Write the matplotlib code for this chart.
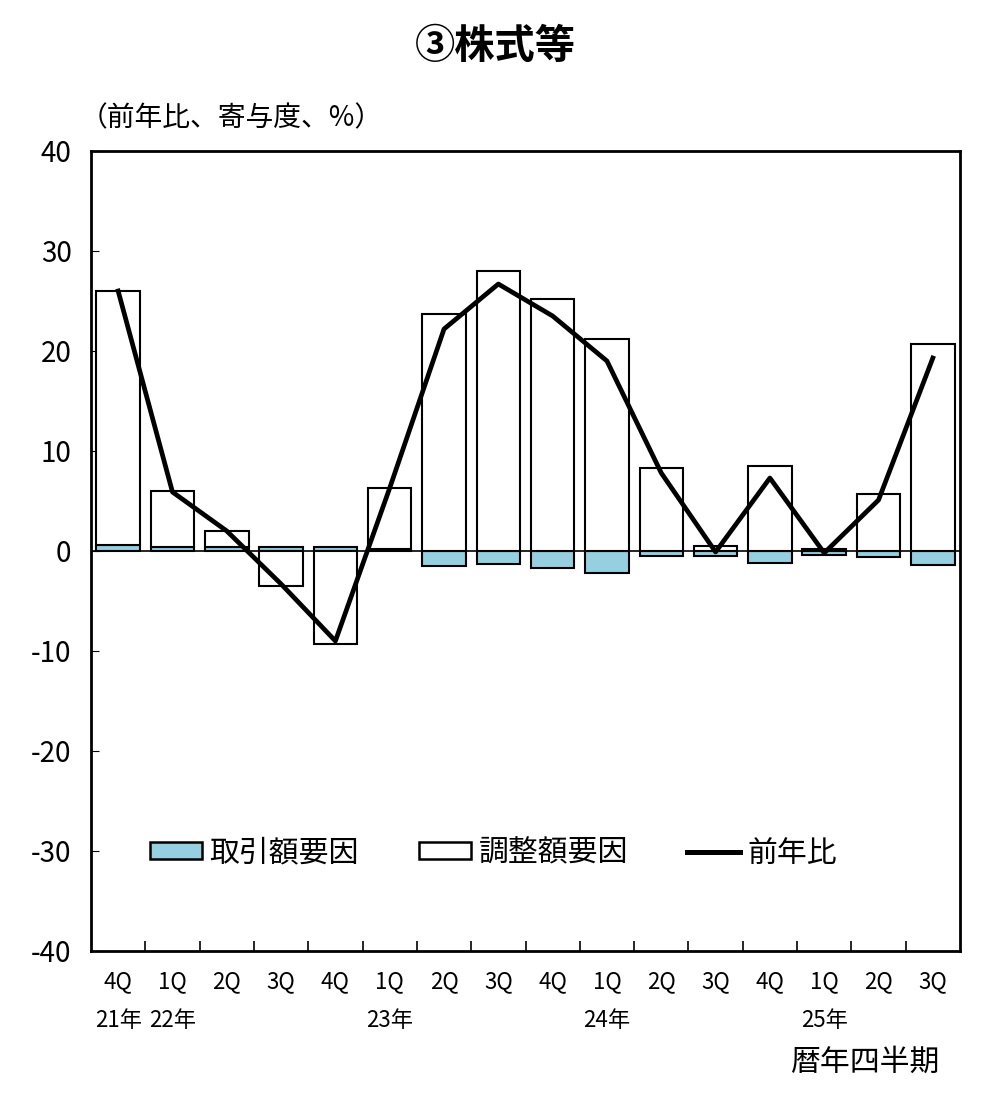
import numpy as np
import matplotlib.pyplot as plt
from matplotlib.patches import Patch
from matplotlib.lines import Line2D

plt.rcParams['font.family'] = ['Noto Sans CJK JP', 'DejaVu Sans']
plt.rcParams['axes.unicode_minus'] = False

# 四半期ラベル
quarters = ['4Q', '1Q', '2Q', '3Q', '4Q', '1Q', '2Q', '3Q', '4Q', '1Q', '2Q', '3Q', '4Q', '1Q', '2Q', '3Q']
years = {0: '21年', 1: '22年', 5: '23年', 9: '24年', 13: '25年'}

# 取引額要因・調整額要因・前年比（%）
torihiki = [0.6, 0.4, 0.4, 0.4, 0.4, 0.2, -1.5, -1.3, -1.7, -2.2, -0.5, -0.5, -1.2, -0.4, -0.6, -1.4]
chosei = [25.4, 5.6, 1.6, -3.5, -9.3, 6.1, 23.7, 28.0, 25.2, 21.2, 8.3, 0.5, 8.5, 0.2, 5.7, 20.7]
zennen = [26.0, 5.9, 2.0, -3.3, -9.0, 6.3, 22.2, 26.7, 23.5, 19.0, 7.8, -0.1, 7.3, -0.2, 5.1, 19.3]

blue = '#96CFE0'
x = np.arange(len(quarters))
torihiki = np.array(torihiki)
chosei = np.array(chosei)
# 同符号なら積み上げ、異符号なら0から
bottom2 = np.where(np.sign(torihiki) == np.sign(chosei), torihiki, 0)

fig = plt.figure(figsize=(9.81, 11.07), dpi=100)
ax = fig.add_axes([91/981, 1 - 951/1107, 869/981, 800/1107])

ax.bar(x, torihiki, width=0.8, color=blue, edgecolor='black', linewidth=1.5, zorder=2)
ax.bar(x, chosei, width=0.8, bottom=bottom2, color='white', edgecolor='black', linewidth=1.5, zorder=2)
ax.axhline(0, color='black', linewidth=1.2, zorder=3)
ax.plot(x, zennen, color='black', linewidth=3.4, zorder=4)

ax.set_xlim(-0.5, len(quarters) - 0.5)
ax.set_ylim(-40, 40)
ax.set_yticks(np.arange(-40, 41, 10))
ax.tick_params(axis='y', direction='in', length=6, labelsize=20, pad=14)
ax.set_xticks(x)
ax.set_xticklabels(quarters, fontsize=16)
ax.tick_params(axis='x', which='major', length=0, pad=14)
ax.set_xticks(np.arange(0.5, len(quarters) - 1, 1), minor=True)
ax.tick_params(axis='x', which='minor', direction='in', length=7, width=1.2)
for s in ax.spines.values():
    s.set_linewidth(2)

for i, y in years.items():
    ax.text(i, -0.0865, y, transform=ax.get_xaxis_transform(), ha='center', va='center', fontsize=16)

fig.text(940/981, 1 - 1062/1107, '暦年四半期', ha='right', va='center', fontsize=21.5)
fig.text(495/981, 1 - 46/1107, '③株式等', ha='center', va='center', fontsize=29, fontweight='bold')
fig.text(80/981, 1 - 118/1107, '（前年比、寄与度、%）', ha='left', va='center', fontsize=20)

handles = [Patch(facecolor=blue, edgecolor='black', linewidth=1.8),
           Patch(facecolor='white', edgecolor='black', linewidth=1.8),
           Line2D([], [], color='black', linewidth=3.6)]
ax.legend(handles, ['取引額要因', '調整額要因', '前年比'], ncol=3, frameon=False,
          loc='center', bbox_to_anchor=(0.463, 0.1225), fontsize=21.5,
          handlelength=1.75, handleheight=0.5, handletextpad=0.25, columnspacing=2.0)

fig.savefig('out.png', dpi=100)
